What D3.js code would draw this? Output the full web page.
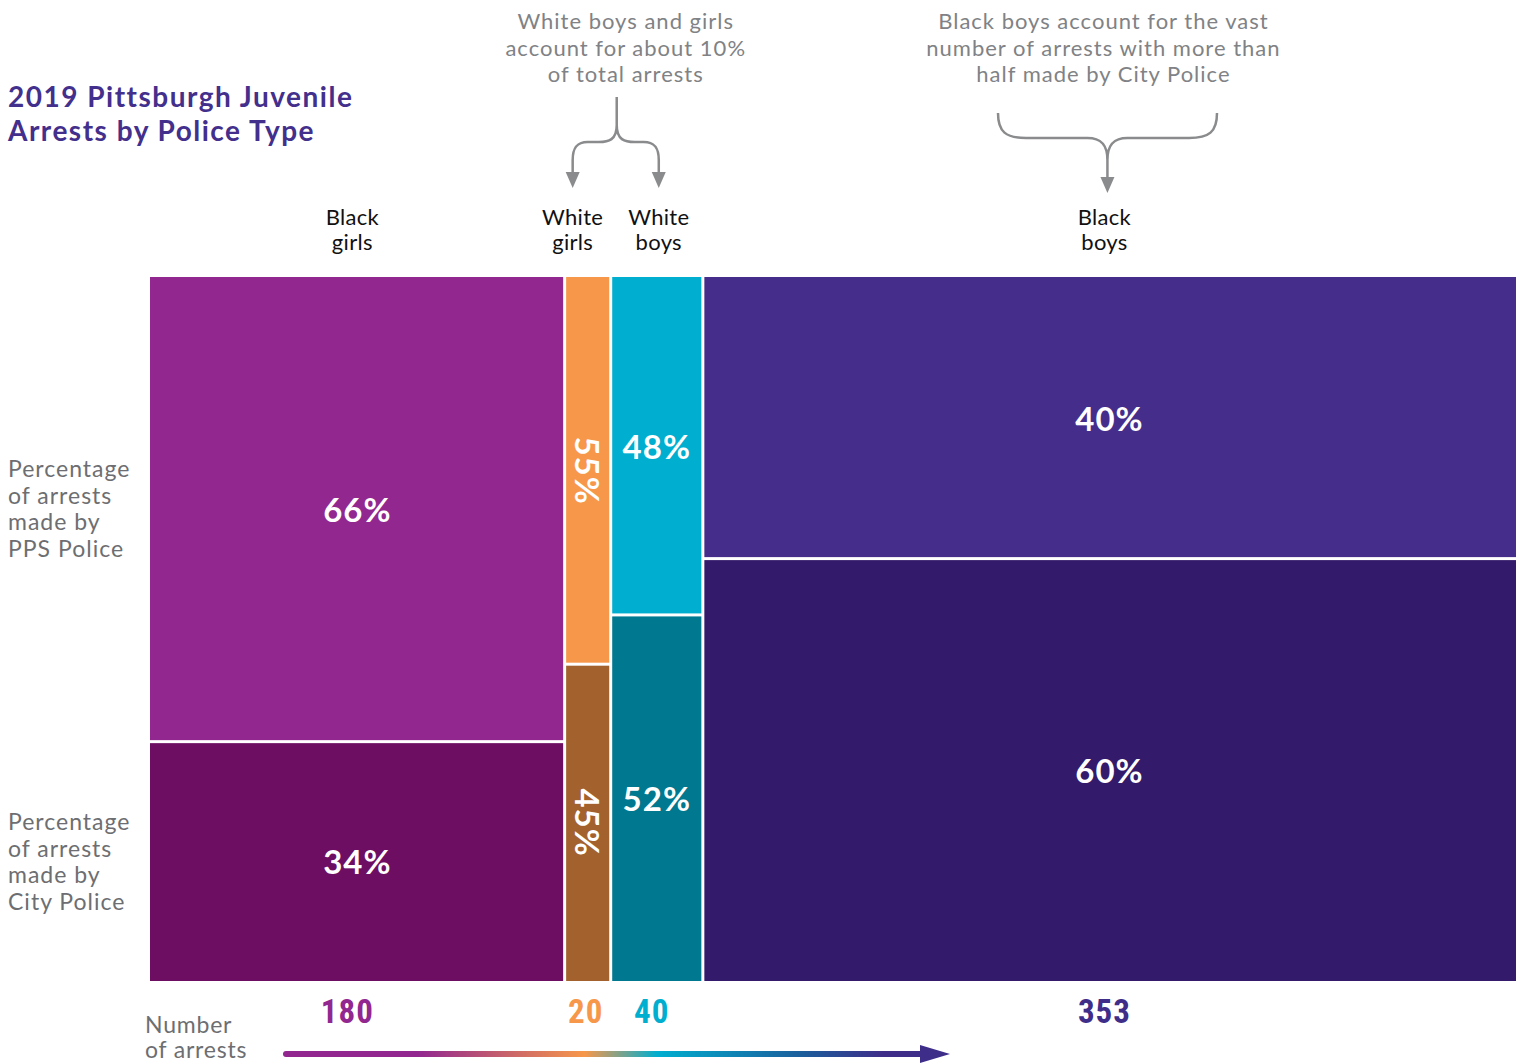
<!DOCTYPE html>
<html>
<head>
<meta charset="utf-8">
<script src="https://cdn.jsdelivr.net/npm/d3@7"></script>
<style>
  body { margin: 0; background: #fff; }
  svg { display: block; font-family: Lato, "Open Sans", sans-serif; }
</style>
</head>
<body>
<svg id="chart" width="1516" height="1063"></svg>
<script>
// Marimekko chart: column width = number of arrests, split by police type
const groups = ["Black girls", "White girls", "White boys", "Black boys"];
const arrests = [180, 20, 40, 353];
const ppsShare = [66, 55, 48, 40];
const cityShare = [34, 45, 52, 60];
const ppsColors = ["#92278f", "#f7974a", "#00aecf", "#452e8b"];
const cityColors = ["#6d0e63", "#a3622d", "#00788f", "#331a6a"];
const countColors = ["#92278f", "#f7974a", "#00aecf", "#3f2d8a"];
const rowLabels = [
    ["Percentage", "of arrests", "made by", "PPS Police"],
    ["Percentage", "of arrests", "made by", "City Police"]
];

const svg = d3.select("#chart");
const margin = {top: 277, right: 0, bottom: 82, left: 150};
const W = 1516, H = 1063;
const plotW = W - margin.left - margin.right;
const plotH = H - margin.top - margin.bottom;

// cumulative starts
const starts = [];
arrests.reduce((acc, v, i) => { starts[i] = acc; return acc + v; }, 0);
const total = d3.sum(arrests);

const x = d3.scaleLinear().domain([0, total]).range([margin.left, margin.left + plotW]);
const y = d3.scaleLinear().domain([0, 100]).range([margin.top, margin.top + plotH]);

const gap = 1.5;
const cells = [];
groups.forEach((g, i) => {
    cells.push({i, part: "pps", y0: 0, y1: ppsShare[i], value: ppsShare[i], color: ppsColors[i]});
    cells.push({i, part: "city", y0: ppsShare[i], y1: 100, value: cityShare[i], color: cityColors[i]});
});

const colX0 = i => x(starts[i]) + (i > 0 ? gap : 0);
const colX1 = i => x(starts[i] + arrests[i]) - (i < groups.length - 1 ? gap : 0);
const colMid = i => (x(starts[i]) + x(starts[i] + arrests[i])) / 2;

svg.append("g").selectAll("rect")
    .data(cells)
    .enter()
    .append("rect")
    .attr("x", d => colX0(d.i))
    .attr("width", d => colX1(d.i) - colX0(d.i))
    .attr("y", d => y(d.y0) + (d.y0 > 0 ? gap : 0))
    .attr("height", d => y(d.y1) - y(d.y0) - (d.y0 > 0 ? gap : 0) - (d.y1 < 100 ? gap : 0))
    .attr("fill", d => d.color);

// percentage labels (narrow column gets rotated text)
svg.append("g").selectAll("text")
    .data(cells)
    .enter()
    .append("text")
    .attr("transform", d => {
        const cx = colMid(d.i);
        const cy = (y(d.y0) + y(d.y1)) / 2;
        return arrests[d.i] < 30 ? `translate(${cx},${cy}) rotate(90)` : `translate(${cx},${cy})`;
    })
    .attr("text-anchor", "middle")
    .attr("dominant-baseline", "central")
    .attr("fill", "#fff")
    .attr("font-size", "33px")
    .attr("font-weight", "bold")
    .attr("letter-spacing", "1px")
    .text(d => d.value + "%");

// column labels at top
const labelDx = [-5, -15, 2, -5];
groups.forEach((g, i) => {
    const words = g.split(" ");
    const t = svg.append("text")
        .attr("text-anchor", "middle")
        .attr("fill", "#111")
        .attr("font-size", "22px")
        .attr("letter-spacing", "0.3px");
    words.forEach((w, k) => {
        t.append("tspan")
            .attr("x", colMid(i) + labelDx[i])
            .attr("y", 225 + k * 24.5)
            .text(w);
    });
});

// counts below
const countDx = [-10, -2, -5, -5];
svg.append("g").selectAll("text")
    .data(arrests)
    .enter()
    .append("text")
    .attr("x", (d, i) => colMid(i) + countDx[i])
    .attr("y", 1023)
    .attr("text-anchor", "middle")
    .attr("fill", (d, i) => countColors[i])
    .attr("font-family", "'Liberation Sans Narrow', 'Roboto Condensed', Roboto, sans-serif")
    .attr("font-weight", "bold")
    .attr("font-size", "33px")
    .attr("letter-spacing", "1px")
    .text(d => d);

// row labels on left
rowLabels.forEach((lines, r) => {
    const t = svg.append("text")
        .attr("fill", "#6d6e71")
        .attr("font-size", "23px")
        .attr("letter-spacing", "1px");
    lines.forEach((l, k) => {
        t.append("tspan")
            .attr("x", 8)
            .attr("y", (r === 0 ? 477 : 830) + k * 26.5)
            .text(l);
    });
});

// title
const title = svg.append("text")
    .attr("fill", "#432f8c")
    .attr("font-size", "28px")
    .attr("font-weight", "bold")
    .attr("letter-spacing", "1.5px");
["2019 Pittsburgh Juvenile", "Arrests by Police Type"].forEach((l, k) => {
    title.append("tspan").attr("x", 8).attr("y", 107 + k * 34).text(l);
});

// annotations
const grey = "#8a8b8d";
function annotation(cx, lines) {
    const t = svg.append("text")
        .attr("text-anchor", "middle")
        .attr("fill", "#808285")
        .attr("font-size", "22px")
        .attr("letter-spacing", "1px");
    lines.forEach((l, k) => {
        t.append("tspan").attr("x", cx).attr("y", 29 + k * 26.5).text(l);
    });
}
const wgX = colMid(1) + labelDx[1];
const wbX = colMid(2) + labelDx[2];
const whiteMid = (wgX + wbX) / 2;
annotation(whiteMid + 10, ["White boys and girls", "account for about 10%", "of total arrests"]);
const bbX = colMid(3) - 2;
annotation(bbX - 4, ["Black boys account for the vast", "number of arrests with more than", "half made by City Police"]);

function arrowHead(tx, ty) {
    svg.append("path")
        .attr("d", `M${tx - 7},${ty - 16} L${tx + 7},${ty - 16} L${tx},${ty} Z`)
        .attr("fill", grey);
}

// white brace: one stem splitting into two arrows
const bm = whiteMid + 1;
svg.append("path")
    .attr("d", `M${bm},97 L${bm},125 C${bm},140 ${bm - 8},142 ${bm - 18},142 L${wgX + 15},142 C${wgX + 4},142 ${wgX},148 ${wgX},160 L${wgX},174`
        + ` M${bm},125 C${bm},140 ${bm + 8},142 ${bm + 18},142 L${wbX - 15},142 C${wbX - 4},142 ${wbX},148 ${wbX},160 L${wbX},174`)
    .attr("fill", "none")
    .attr("stroke", grey)
    .attr("stroke-width", 2.5);
arrowHead(wgX, 188);
arrowHead(wbX, 188);

// black boys brace
const L = 998, R = 1217;
svg.append("path")
    .attr("d", `M${L},113 C${L},132 ${L + 8},138 ${L + 28},138 L${bbX - 20},138 C${bbX - 6},138 ${bbX},145 ${bbX},160 L${bbX},178`
        + ` M${R},113 C${R},132 ${R - 8},138 ${R - 28},138 L${bbX + 20},138 C${bbX + 6},138 ${bbX},145 ${bbX},160`)
    .attr("fill", "none")
    .attr("stroke", grey)
    .attr("stroke-width", 2.5);
arrowHead(bbX, 193);

// number of arrests axis label + gradient arrow
const axLabel = svg.append("text").attr("fill", "#6d6e71").attr("font-size", "23px").attr("letter-spacing", "0.8px");
["Number", "of arrests"].forEach((l, k) => {
    axLabel.append("tspan").attr("x", 145).attr("y", 1033 + k * 25).text(l);
});

const defs = svg.append("defs");
const grad = defs.append("linearGradient")
    .attr("id", "arrowGrad")
    .attr("gradientUnits", "userSpaceOnUse")
    .attr("x1", 285).attr("x2", 950).attr("y1", 0).attr("y2", 0);
[[0, "#92278f"], [0.2, "#92278f"], [0.45, "#f7974a"], [0.56, "#00aecf"], [0.78, "#1c5d9c"], [0.9, "#3f2d8a"], [1, "#3f2d8a"]]
    .forEach(s => grad.append("stop").attr("offset", s[0]).attr("stop-color", s[1]));

svg.append("line")
    .attr("x1", 286).attr("x2", 925)
    .attr("y1", 1054).attr("y2", 1054)
    .attr("stroke", "url(#arrowGrad)")
    .attr("stroke-width", 6)
    .attr("stroke-linecap", "round");
svg.append("path")
    .attr("d", "M920,1045 L950,1054 L920,1063 Z")
    .attr("fill", "#3f2d8a");
</script>
</body>
</html>
